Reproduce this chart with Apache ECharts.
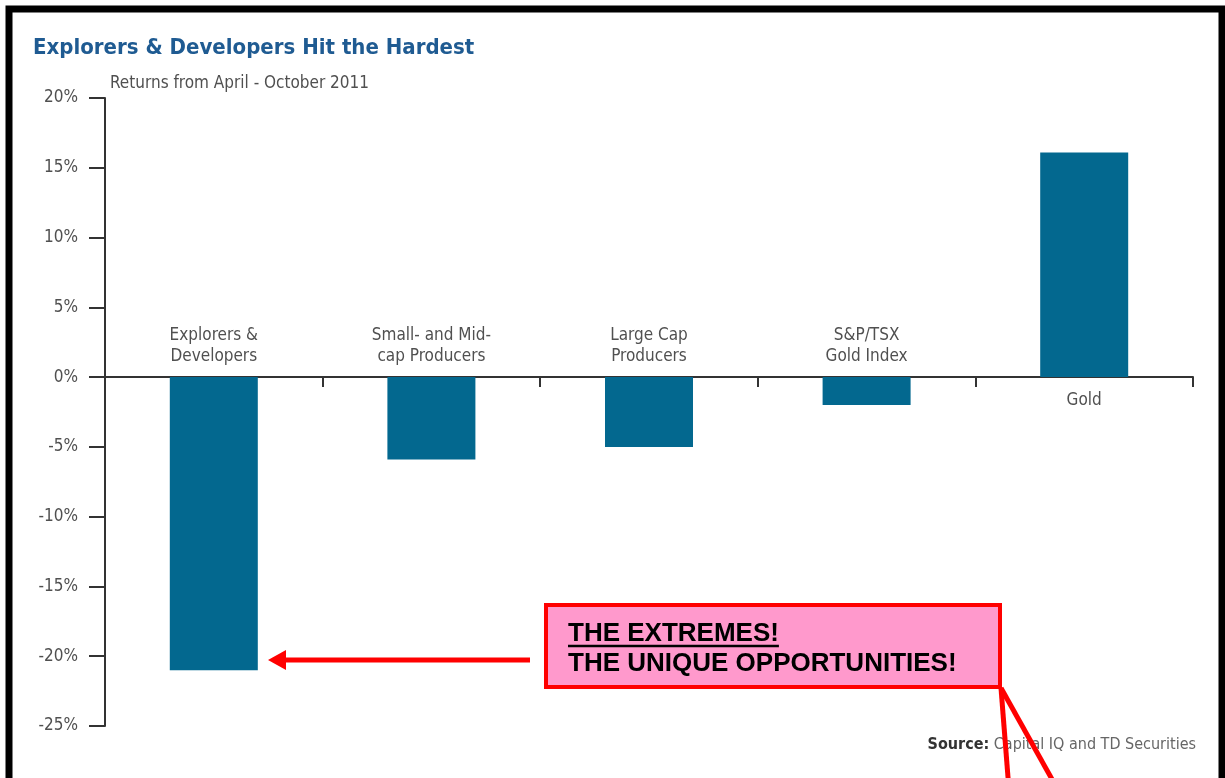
<!DOCTYPE html>
<html>
<head>
<meta charset="utf-8">
<script src="https://cdn.jsdelivr.net/npm/echarts@6/dist/echarts.min.js"></script>
<style>
html,body{margin:0;padding:0;background:#fff;}
#c{width:1225px;height:778px;}
</style>
</head>
<body>
<div id="c"></div>
<script>
const categories = ['Explorers &\nDevelopers', 'Small- and Mid-\ncap Producers', 'Large Cap\nProducers', 'S&P/TSX\nGold Index', 'Gold'];
const returns = [-21.0, -5.9, -5.0, -2.0, 16.1];
const yTicks = { min: -25, max: 20, interval: 5 };

const FONT = '"Liberation Sans Narrow", "DejaVu Sans Condensed", "Liberation Sans", sans-serif';
const BOXFONT = '"Liberation Sans", Arial, sans-serif';
const GRAY = '#505050';
const BAR = '#03688f';

function textWidth(txt, font) {
  const c = document.createElement('canvas').getContext('2d');
  c.font = font;
  return c.measureText(txt).width;
}

const chart = echarts.init(document.getElementById('c'), null, { renderer: 'canvas' });

const labelPoints = categories.map((name, i) => ({
  value: [name, 0],
  label: returns[i] < 0
    ? { position: 'top', distance: 10 }
    : { position: 'bottom', distance: 13 }
}));

const boxFontSize = 26;
const underlineW = textWidth('THE EXTREMES!', 'bold ' + boxFontSize + 'px ' + BOXFONT);

const option = {
  backgroundColor: '#fff',
  animation: false,
  title: [
    { text: 'Explorers & Developers Hit the Hardest', left: 28, top: 32,
      textStyle: { fontFamily: FONT, fontWeight: 'bold', fontSize: 22, color: '#1f5b92' } },
    { text: 'Returns from April - October 2011', left: 105, top: 70,
      textStyle: { fontFamily: FONT, fontWeight: 'normal', fontSize: 17, color: GRAY } }
  ],
  grid: { left: 105, right: 32, top: 98, bottom: 52, containLabel: false },
  xAxis: {
    type: 'category', data: categories,
    axisLine: { onZero: true, lineStyle: { color: '#333', width: 2 } },
    axisTick: { show: true, length: 10, lineStyle: { color: '#333', width: 2 } },
    axisLabel: { show: false }
  },
  yAxis: {
    type: 'value', min: yTicks.min, max: yTicks.max, interval: yTicks.interval,
    axisLine: { show: true, lineStyle: { color: '#333', width: 2 } },
    axisTick: { show: true, inside: false, length: 16, lineStyle: { color: '#333', width: 2 } },
    axisLabel: { margin: 27, fontFamily: FONT, fontSize: 17, color: GRAY, formatter: '{value}%' },
    splitLine: { show: false }
  },
  series: [
    {
      type: 'bar', data: returns, barWidth: 88,
      itemStyle: { color: BAR }
    },
    {
      type: 'scatter', data: labelPoints, symbolSize: 0, silent: true, z: 5,
      itemStyle: { opacity: 1 },
      label: {
        show: true, formatter: p => p.value[0],
        fontFamily: FONT, fontSize: 17, color: GRAY, lineHeight: 21, align: 'center'
      }
    }
  ],
  graphic: [
    { type: 'rect', shape: { x: 9, y: 9, width: 1213, height: 800 },
      style: { fill: 'none', stroke: '#000', lineWidth: 7 }, z: 100 },
    { type: 'text', right: 29, top: 737, z: 50,
      style: {
        text: '{b|Source:} Capital IQ and TD Securities',
        rich: { b: { fontFamily: FONT, fontWeight: 'bold', fontSize: 16, fill: '#333' } },
        fontFamily: FONT, fontSize: 16, fill: '#666'
      } },
    { type: 'rect', shape: { x: 546, y: 605, width: 454, height: 82 }, z: 60,
      style: { fill: '#ff99cc', stroke: '#ff0000', lineWidth: 4 } },
    { type: 'text', x: 568, y: 619, z: 61,
      style: { text: 'THE EXTREMES!\nTHE UNIQUE OPPORTUNITIES!', fontFamily: BOXFONT,
        fontWeight: 'bold', fontSize: boxFontSize, lineHeight: 30, fill: '#000' } },
    { type: 'line', shape: { x1: 568, y1: 646, x2: 568 + underlineW, y2: 646 }, z: 61,
      style: { stroke: '#000', lineWidth: 2.5 } },
    { type: 'line', shape: { x1: 530, y1: 660, x2: 282, y2: 660 }, z: 60,
      style: { stroke: '#ff0000', lineWidth: 5 } },
    { type: 'polygon', shape: { points: [[268, 660], [286, 650], [286, 670]] }, z: 60,
      style: { fill: '#ff0000' } },
    { type: 'line', shape: { x1: 1001, y1: 688, x2: 1009, y2: 790 }, z: 60,
      style: { stroke: '#ff0000', lineWidth: 5 } },
    { type: 'line', shape: { x1: 1001, y1: 688, x2: 1058, y2: 790 }, z: 60,
      style: { stroke: '#ff0000', lineWidth: 5 } }
  ]
};
chart.setOption(option);
</script>
</body>
</html>
